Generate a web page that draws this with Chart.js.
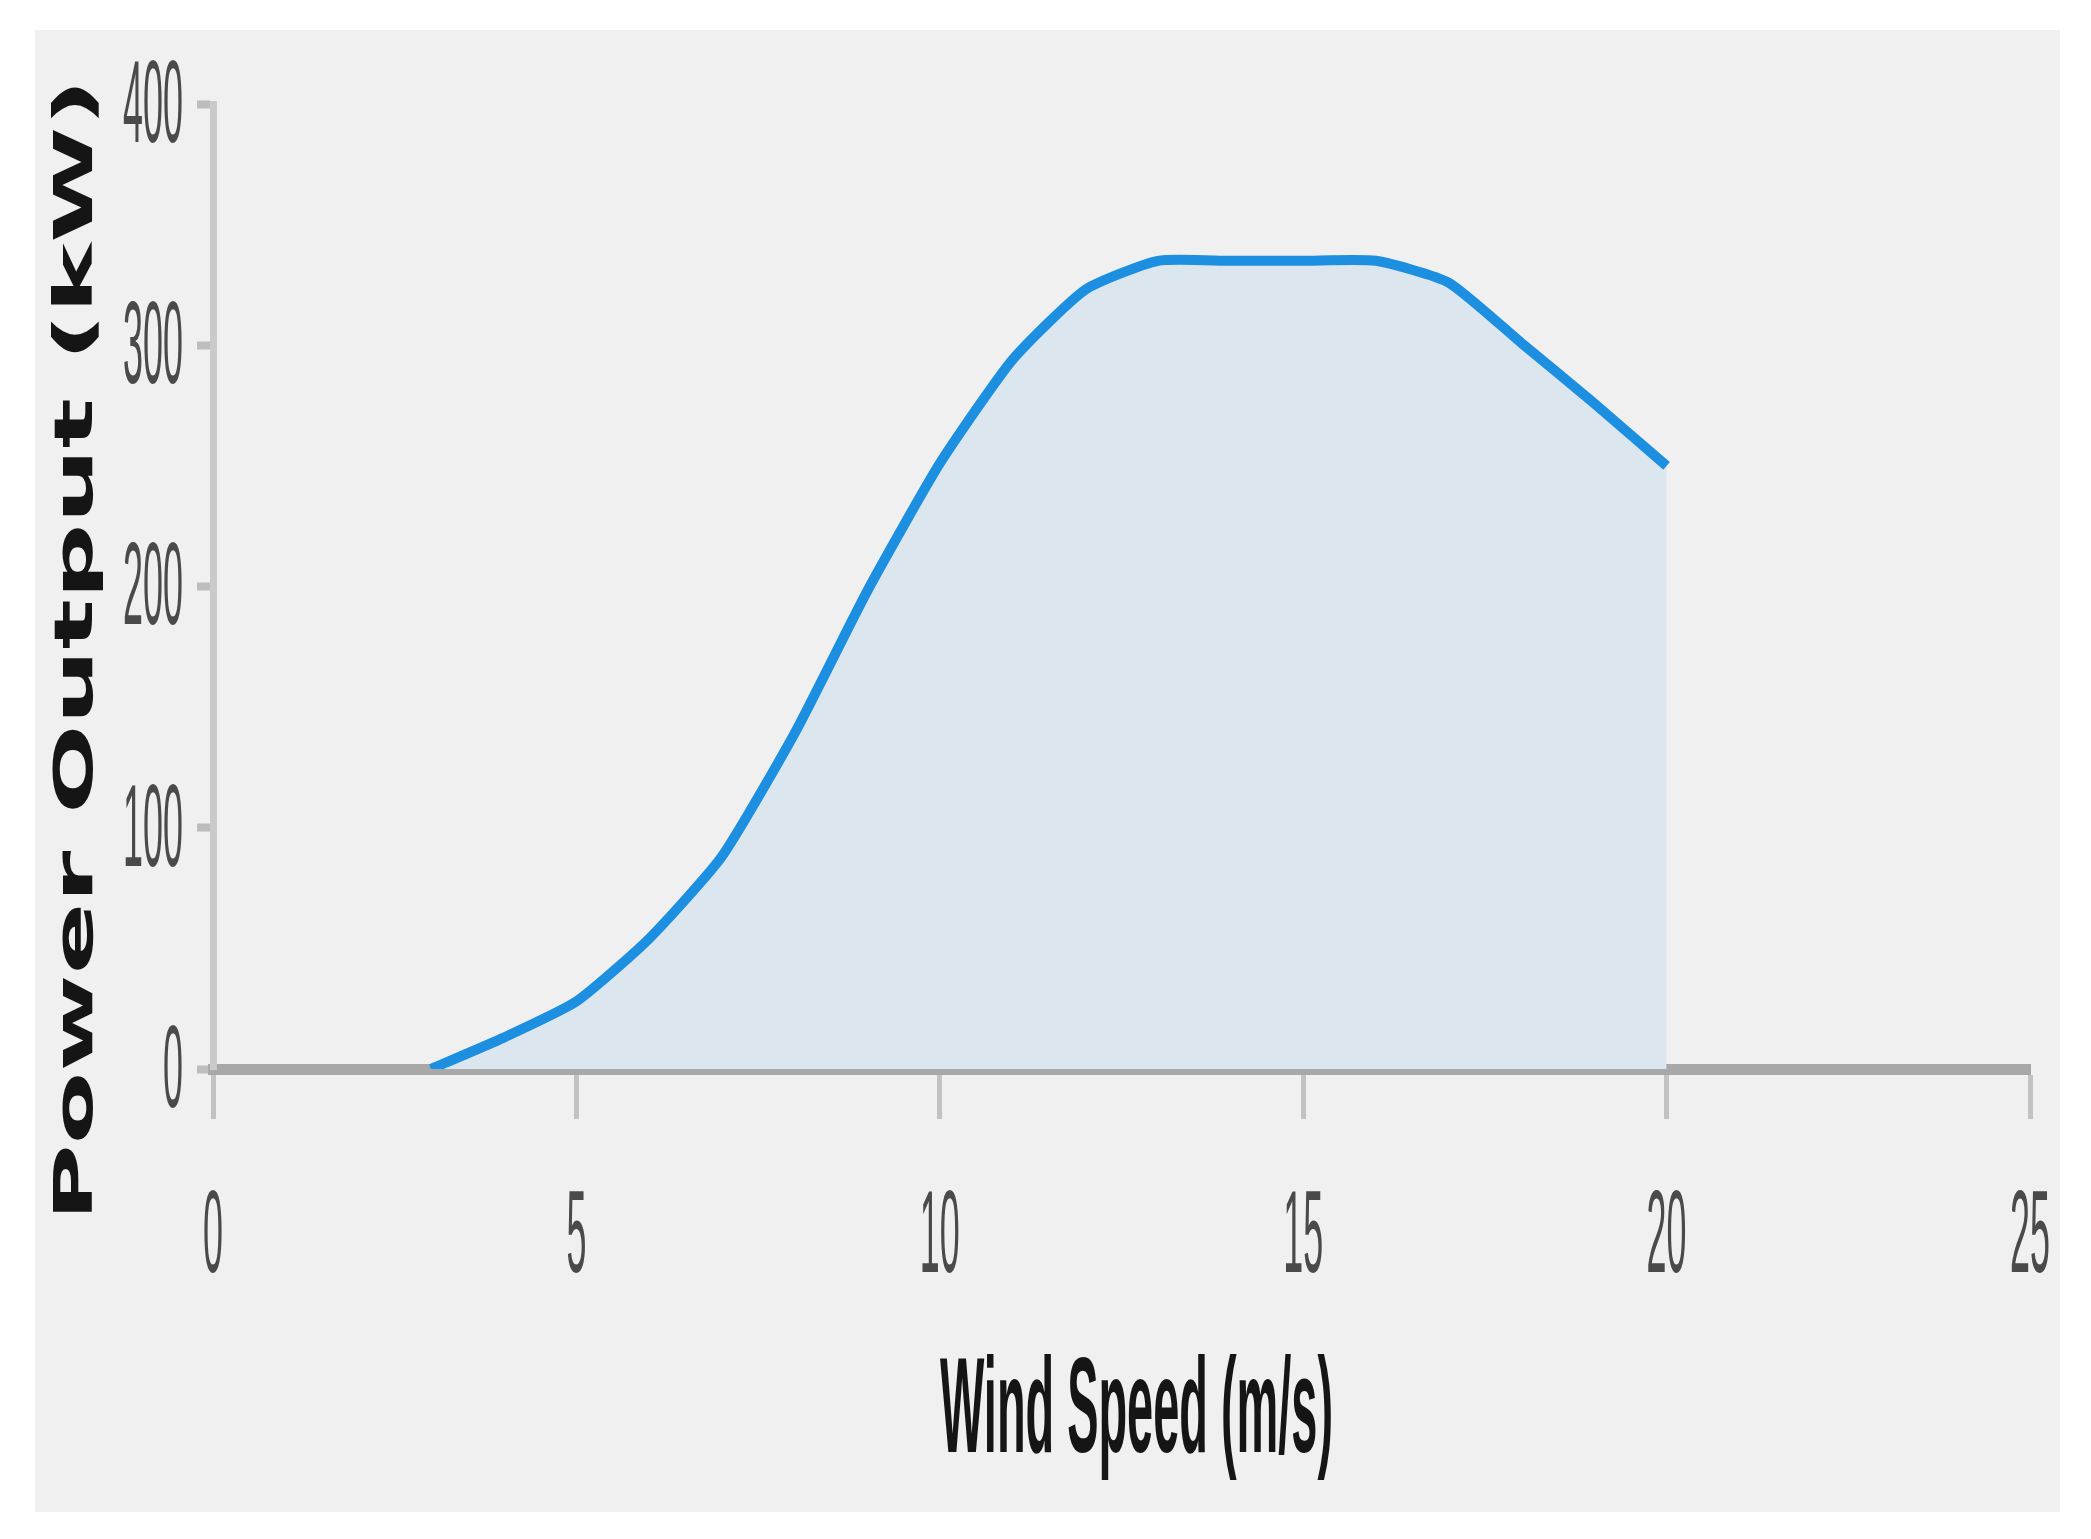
<!DOCTYPE html>
<html lang="en">
<head>
  <meta charset="UTF-8">
  <title>Wind Turbine Power Curve</title>
  <script src="https://cdn.jsdelivr.net/npm/chart.js"></script>
  <style>
    body {
      margin: 0;
      background: #ffffff;
    }
    #panel {
      position: absolute;
      left: 35px;
      top: 30px;
      width: 2025px;
      height: 1482px;
      background: #f0f0f0;
    }
    #grafica {
      position: absolute;
      left: 0;
      top: 0;
    }
  </style>
</head>
<body>
  <div id="panel"></div>
  <canvas id="grafica" width="2091" height="1539"></canvas>

  <script>
    // values
    const windSpeed = [3, 4, 5, 6, 7, 8, 9, 10, 11, 12, 13, 14, 15, 16, 17, 18, 19, 20];
    const powerOutput = [0, 13, 28, 54, 88, 139, 198, 251, 294, 323, 335, 335, 335, 335, 326, 301, 276, 250];
    const xTicks = [0, 5, 10, 15, 20, 25];
    const yTicks = [0, 100, 200, 300, 400];
    const xTitle = 'Wind Speed (m/s)';
    const yTitle = 'Power Output (kW)';

    // the labels in the picture are heavily squeezed / stretched, so they are drawn here
    const textPlugin = {
      id: 'textPlugin',
      afterDraw(chart) {
        const ctx = chart.ctx;
        const xs = chart.scales.x;
        const ys = chart.scales.y;
        ctx.save();

        ctx.fillStyle = '#4a4a4a';
        ctx.font = '116px "Liberation Sans Narrow", "Liberation Sans", sans-serif';
        ctx.textBaseline = 'middle';
        const sx = 20 / ctx.measureText('0').width;

        ys.ticks.forEach(t => {
          ctx.save();
          ctx.translate(183, ys.getPixelForValue(t.value) + 6);
          ctx.scale(sx, 1);
          ctx.textAlign = 'right';
          ctx.fillText(String(t.value), 0, 0);
          ctx.restore();
        });

        xs.ticks.forEach(t => {
          ctx.save();
          ctx.translate(xs.getPixelForValue(t.value), 1240);
          ctx.scale(sx, 1);
          ctx.textAlign = 'center';
          ctx.fillText(String(t.value), 0, 0);
          ctx.restore();
        });

        // x title
        ctx.fillStyle = '#151515';
        ctx.font = 'bold 135px "Liberation Sans Narrow", "Liberation Sans", sans-serif';
        ctx.textBaseline = 'alphabetic';
        let w = ctx.measureText(xTitle).width;
        ctx.save();
        ctx.translate((xs.left + xs.right) / 2 + 15, 1452);
        ctx.scale(393 / w, 1);
        ctx.textAlign = 'center';
        ctx.fillText(xTitle, 0, 0);
        ctx.restore();

        // y title
        ctx.font = 'bold 54px "DejaVu Sans", sans-serif';
        w = ctx.measureText(yTitle).width;
        ctx.save();
        ctx.translate(92, 650);
        ctx.rotate(-Math.PI / 2);
        ctx.scale(1143 / w, 1);
        ctx.textAlign = 'center';
        ctx.fillText(yTitle, 0, 0);
        ctx.restore();

        ctx.restore();
      }
    };

    const ctx = document.getElementById('grafica').getContext('2d');
    new Chart(ctx, {
      type: 'line',
      data: {
        datasets: [{
          label: 'Power curve',
          data: windSpeed.map((v, i) => ({ x: v, y: powerOutput[i] })),
          borderColor: '#1c8fe0',
          backgroundColor: '#dbe6ee',
          borderWidth: 10,
          fill: 'origin',
          pointRadius: 0,
          tension: 0.18
        }]
      },
      options: {
        responsive: false,
        animation: false,
        layout: { padding: { top: 104, right: 61, left: 0, bottom: 0 } },
        plugins: {
          legend: { display: false },
          tooltip: { enabled: false }
        },
        scales: {
          x: {
            type: 'linear',
            min: 0,
            max: 25,
            z: 1,
            afterBuildTicks: s => { s.ticks = xTicks.map(v => ({ value: v })); },
            afterFit: s => { s.height = 470; },
            ticks: { display: false },
            grid: {
              drawOnChartArea: false,
              drawTicks: true,
              tickLength: 50,
              tickWidth: 5,
              tickColor: '#c2c2c2'
            },
            border: { display: true, color: '#a8a8a8', width: 11 }
          },
          y: {
            min: 0,
            max: 400,
            afterBuildTicks: s => { s.ticks = yTicks.map(v => ({ value: v })); },
            afterFit: s => { s.width = 213; },
            ticks: { display: false },
            grid: {
              drawOnChartArea: false,
              drawTicks: true,
              tickLength: 16,
              tickWidth: 8,
              tickColor: '#bdbdbd'
            },
            border: { display: true, color: '#cacaca', width: 7 }
          }
        }
      },
      plugins: [textPlugin]
    });
  </script>
</body>
</html>
